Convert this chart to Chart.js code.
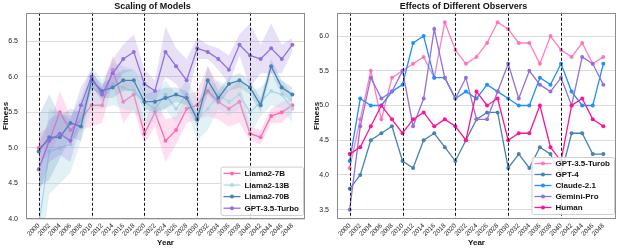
<!DOCTYPE html>
<html>
<head>
<meta charset="utf-8">
<script src="https://cdn.jsdelivr.net/npm/chart.js@4.4.0/dist/chart.umd.min.js"></script>
<style>
  body { margin: 0; background: #fff; }
  #wrap { position: relative; width: 623px; height: 250px; }
  canvas { position: absolute; top: 0; }
</style>
</head>
<body>
<div id="wrap">
  <canvas id="scaleChart" width="311" height="250" style="left:0;width:311px;height:250px"></canvas>
  <canvas id="observerChart" width="312" height="250" style="left:311px;width:312px;height:250px"></canvas>
</div>
<script>
const years = [2000, 2002, 2004, 2006, 2008, 2010, 2012, 2014, 2016, 2018, 2020, 2022, 2024,
               2026, 2028, 2030, 2032, 2034, 2036, 2038, 2040, 2042, 2044, 2046, 2048];
const decadeMarks = [2000, 2010, 2020, 2030, 2040];

// left panel: scaling of models (mean + spread)
const llama7b   = [5.0, 5.1, 5.5, 5.25, 5.4, 5.6, 5.6, 6.1, 5.65, 5.75, 5.2, 5.5, 5.1, 5.25, 5.55, 5.6, 5.8, 5.65, 5.55, 5.65, 5.2, 5.15, 5.45, 5.5, 5.6];
const llama7bSd = [0.2, 0.2, 0.3, 0.2, 0.15, 0.3, 0.25, 0.2, 0.3, 0.2, 0.15, 0.2, 0.3, 0.2, 0.2, 0.2, 0.35, 0.25, 0.25, 0.3, 0.1, 0.1, 0.1, 0.15, 0.1];
const llama13b   = [3.9, 4.95, 5.0, 5.05, 5.4, 5.85, 5.75, 5.9, 5.85, 5.8, 5.65, 5.55, 5.75, 5.55, 5.75, 5.4, 5.55, 5.75, 5.65, 5.75, 5.5, 5.65, 5.8, 5.75, 5.55];
const llama13bSd = [0.6, 0.6, 0.5, 0.4, 0.3, 0.3, 0.2, 0.3, 0.3, 0.3, 0.3, 0.2, 0.2, 0.2, 0.2, 0.3, 0.3, 0.2, 0.2, 0.2, 0.3, 0.2, 0.2, 0.2, 0.2];
const llama70b   = [4.95, 5.15, 5.15, 5.35, 5.3, 5.95, 5.8, 5.85, 5.95, 5.95, 5.65, 5.65, 5.7, 5.75, 5.7, 5.4, 5.95, 5.7, 5.9, 5.95, 5.85, 5.6, 6.15, 5.85, 5.75];
const llama70bSd = [0.5, 0.6, 0.3, 0.2, 0.2, 0.1, 0.1, 0.15, 0.15, 0.15, 0.1, 0.15, 0.15, 0.1, 0.1, 0.1, 0.2, 0.1, 0.1, 0.1, 0.1, 0.1, 0.1, 0.1, 0.1];
const gpt35   = [4.7, 5.1, 5.2, 5.1, 5.6, 6.0, 5.75, 6.05, 6.25, 6.35, 5.9, 5.8, 6.35, 6.15, 5.95, 6.4, 6.35, 6.25, 6.1, 6.45, 6.3, 6.25, 6.4, 6.25, 6.45];
const gpt35Sd = [0.35, 0.3, 0.3, 0.3, 0.25, 0.1, 0.1, 0.2, 0.2, 0.25, 0.2, 0.15, 0.35, 0.25, 0.3, 0.15, 0.1, 0.15, 0.2, 0.15, 0.45, 0.2, 0.35, 0.2, 0.1];
const scaleTicks = [4.0, 4.5, 5.0, 5.5, 6.0, 6.5];

// right panel: different observers
const obsGpt35 = [4.1, 4.8, 5.5, 4.8, 5.4, 5.5, 5.6, 5.7, 5.4, 6.2, 5.8, 5.6, 5.7, 5.9, 6.2, 6.1, 5.9, 5.9, 5.6, 6.0, 5.8, 5.7, 5.9, 5.6, 5.7];
const obsGpt4  = [3.8, 4.0, 4.5, 4.6, 4.7, 4.2, 4.1, 4.5, 4.6, 4.4, 4.2, 4.5, 4.8, 4.9, 4.9, 4.1, 4.3, 4.1, 4.4, 4.3, 4.0, 4.6, 4.6, 4.3, 4.3];
const obsClaude = [4.2, 5.1, 5.0, 5.0, 5.2, 5.3, 5.9, 6.0, 5.4, 5.4, 5.1, 5.2, 5.1, 5.3, 5.2, 5.1, 5.0, 5.0, 5.4, 5.3, 5.6, 5.2, 5.0, 5.0, 5.6];
const obsGemini = [3.5, 4.7, 5.4, 5.1, 5.2, 5.5, 4.7, 5.1, 6.1, 5.4, 5.1, 5.4, 4.8, 4.8, 5.2, 5.6, 5.1, 5.5, 5.3, 5.2, 5.4, 5.0, 5.7, 5.6, 5.3];
const obsHuman  = [4.3, 4.4, 4.7, 5.0, 4.8, 4.6, 4.8, 4.9, 4.7, 4.8, 4.7, 4.5, 5.2, 5.0, 5.1, 4.5, 4.6, 4.6, 5.0, 4.4, 4.2, 5.0, 5.1, 4.8, 4.7];
const observerTicks = [3.5, 4.0, 4.5, 5.0, 5.5, 6.0];

const FONT = '"Liberation Sans", Arial, sans-serif';

function pts(vals) {
  return years.map((x, i) => ({ x, y: vals[i] }));
}

function lineSet(label, vals, color, z) {
  return {
    label, data: pts(vals), borderColor: color, backgroundColor: color,
    pointBackgroundColor: color, pointBorderWidth: 0, pointRadius: 2,
    borderWidth: 1.3, fill: false, order: 100 - z
  };
}

function bandSets(mean, sd, fillColor, z) {
  const lower = years.map((x, i) => ({ x, y: mean[i] - sd[i] }));
  const upper = years.map((x, i) => ({ x, y: mean[i] + sd[i] }));
  return [
    { data: lower, band: true, borderWidth: 0, pointRadius: 0, fill: false, order: 100 - z },
    { data: upper, band: true, borderWidth: 0, pointRadius: 0, fill: '-1', backgroundColor: fillColor, order: 100 - z }
  ];
}

const decadeLines = {
  id: 'decadeLines',
  afterDatasetsDraw(chart) {
    const { ctx, chartArea, scales } = chart;
    ctx.save();
    ctx.strokeStyle = '#111';
    ctx.lineWidth = 1;
    ctx.setLineDash([3, 2]);
    decadeMarks.forEach(v => {
      const x = Math.round(scales.x.getPixelForValue(v)) + 0.5;
      ctx.beginPath();
      ctx.moveTo(x, chartArea.top);
      ctx.lineTo(x, chartArea.bottom);
      ctx.stroke();
    });
    ctx.restore();
  }
};

const frameAndLegend = {
  id: 'frameAndLegend',
  afterDraw(chart, args, opts) {
    const { ctx, chartArea } = chart;
    ctx.save();
    ctx.strokeStyle = '#8c8c8c';
    ctx.lineWidth = 1;
    ctx.strokeRect(Math.round(chartArea.left) + 0.5, Math.round(chartArea.top) + 0.5,
      Math.round(chartArea.right - chartArea.left) - 1, Math.round(chartArea.bottom - chartArea.top) - 1);

    const items = chart.data.datasets.filter(d => !d.band);
    ctx.font = 'bold 8px ' + FONT;
    const textW = Math.max(...items.map(d => ctx.measureText(d.label).width));
    const rowH = opts.rowH;
    const w = 24 + textW + 4;
    const h = items.length * rowH + 2;
    const x0 = chartArea.right - 2 - w;
    const y0 = chartArea.bottom - opts.gap - h;
    ctx.fillStyle = 'rgba(255,255,255,0.85)';
    ctx.strokeStyle = '#d0d0d0';
    ctx.beginPath();
    ctx.roundRect(x0 + 0.5, y0 + 0.5, w, h, 2);
    ctx.fill();
    ctx.stroke();
    items.forEach((d, i) => {
      const cy = y0 + 1 + rowH / 2 + i * rowH;
      ctx.strokeStyle = d.borderColor;
      ctx.lineWidth = 1.3;
      ctx.beginPath();
      ctx.moveTo(x0 + 3, cy);
      ctx.lineTo(x0 + 20, cy);
      ctx.stroke();
      ctx.fillStyle = d.borderColor;
      ctx.beginPath();
      ctx.arc(x0 + 11.5, cy, 2, 0, Math.PI * 2);
      ctx.fill();
      ctx.fillStyle = '#111';
      ctx.textBaseline = 'middle';
      ctx.fillText(d.label, x0 + 24, cy + 0.5);
    });
    ctx.restore();
  }
};

function makeOptions(title, yMin, yMax, yTicks, padRight, rowH, gap) {
  return {
    responsive: false,
    animation: false,
    layout: { padding: { left: 0, right: padRight, top: 0, bottom: 0 } },
    plugins: {
      legend: { display: false },
      tooltip: { enabled: false },
      title: { display: true, text: title, color: '#111', font: { family: FONT, size: 9, weight: 'bold' }, padding: { top: 1, bottom: 1 } },
      frameAndLegend: { rowH, gap }
    },
    scales: {
      x: {
        type: 'linear', min: 1997.6, max: 2050.4,
        afterBuildTicks(s) { s.ticks = years.map(v => ({ value: v })); },
        afterFit(s) { s.height = 31; },
        grid: { display: false, drawTicks: false },
        border: { display: false },
        ticks: { autoSkip: false, minRotation: 45, maxRotation: 45, padding: 3, color: '#222',
          font: { family: FONT, size: 6.5 }, callback: v => String(v) },
        title: { display: true, text: 'Year', color: '#111', font: { family: FONT, size: 8, weight: 'bold' }, padding: { top: 0, bottom: 2 } }
      },
      y: {
        min: yMin, max: yMax,
        afterBuildTicks(s) { s.ticks = yTicks.map(v => ({ value: v })); },
        afterFit(s) { s.width = 26; },
        grid: { color: '#dcdcdc', lineWidth: 1, drawTicks: false },
        border: { display: false },
        ticks: { padding: 8, color: '#222', font: { family: FONT, size: 7 }, callback: v => v.toFixed(1) },
        title: { display: true, text: 'Fitness', color: '#111', font: { family: FONT, size: 8, weight: 'bold' }, padding: { top: 1, bottom: 0 } }
      }
    }
  };
}

new Chart(document.getElementById('scaleChart'), {
  type: 'line',
  data: {
    datasets: [
      lineSet('Llama2-7B', llama7b, '#ff69b4', 1),
      ...bandSets(llama7b, llama7bSd, 'rgba(255,105,180,0.22)', 2),
      lineSet('Llama2-13B', llama13b, '#add8e6', 3),
      ...bandSets(llama13b, llama13bSd, 'rgba(173,216,230,0.35)', 4),
      lineSet('Llama2-70B', llama70b, '#4682b4', 5),
      ...bandSets(llama70b, llama70bSd, 'rgba(70,130,180,0.2)', 6),
      lineSet('GPT-3.5-Turbo', gpt35, '#9370db', 7),
      ...bandSets(gpt35, gpt35Sd, 'rgba(147,112,219,0.22)', 8)
    ]
  },
  options: makeOptions('Scaling of Models', 4.0, 6.9, scaleTicks, 6, 11.6, 4),
  plugins: [decadeLines, frameAndLegend]
});

new Chart(document.getElementById('observerChart'), {
  type: 'line',
  data: {
    datasets: [
      lineSet('GPT-3.5-Turob', obsGpt35, 'rgba(255,105,180,0.85)', 1),
      lineSet('GPT-4', obsGpt4, '#4682b4', 2),
      lineSet('Claude-2.1', obsClaude, '#1e90ff', 3),
      lineSet('Gemini-Pro', obsGemini, '#9370db', 4),
      lineSet('Human', obsHuman, '#ff1493', 5)
    ]
  },
  options: makeOptions('Effects of Different Observers', 3.365, 6.335, observerTicks, 7, 11, 5),
  plugins: [decadeLines, frameAndLegend]
});
</script>
</body>
</html>
